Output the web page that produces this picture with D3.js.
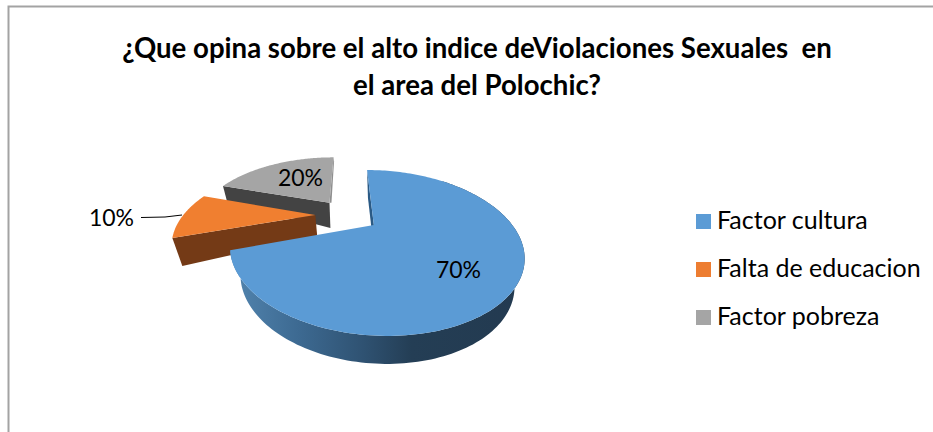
<!DOCTYPE html>
<html><head><meta charset="utf-8">
<script src="https://cdnjs.cloudflare.com/ajax/libs/d3/7.8.5/d3.min.js"></script>
<style>html,body{margin:0;padding:0;background:#fff}svg{display:block}text{font-family:Lato,"Open Sans",sans-serif;fill:#000}</style>
</head><body><svg id="c" width="933" height="432"></svg>
<script>
const categories = ["Factor cultura", "Falta de educacion", "Factor pobreza"];
const values = [70, 10, 20];
const topColors = ["#5b9bd5", "#ed7d31", "#a5a5a5"];
const titleLines = ["¿Que opina sobre el alto indice deViolaciones Sexuales  en", "el area del Polochic?"];

const svg = d3.select("#c");
const W = 933, H = 432;

// chart frame (top and left edges only are visible in the crop)
svg.append("path").attr("d", d3.line()([[8.5, H], [8.5, 6.5], [W, 6.5]]))
  .attr("fill", "none").attr("stroke", "#a3a3a3").attr("stroke-width", 2);

// title
svg.selectAll("text.title").data(titleLines).join("text").attr("class", "title")
  .attr("x", 477).attr("y", (d, i) => 58 + i * 37)
  .attr("text-anchor", "middle").attr("font-weight", 700).attr("font-size", 27.6)
  .style("white-space", "pre").text(d => d);

// perspective projection of the pie plane
const cx = 347, cy = 215, Rx = 132, Ry = 66.9, k = 0.323, explode = 0.24;
const pie = d3.pie().sort(null).value(d => d).startAngle(0).endAngle(2 * Math.PI);
const arcs = pie(values);

function project(a, mid, r) {
  const u = r * Math.sin(a) + explode * Math.sin(mid);
  const v = -r * Math.cos(a) - explode * Math.cos(mid);
  const den = 1 - k * v;
  return [cx + Rx * u / den, cy + Ry * v / den];
}
function ring(d, steps = 90) {
  const mid = (d.startAngle + d.endAngle) / 2;
  return d3.range(steps + 1).map(i => {
    const a = d3.scaleLinear().domain([0, steps]).range([d.startAngle, d.endAngle])(i);
    return project(a, mid, 1);
  });
}
function apex(d) { const mid = (d.startAngle + d.endAngle) / 2; return project(0, mid, 0); }
const line = d3.line();
const closed = pts => line(pts) + "Z";

const defs = svg.append("defs");
const grad = defs.append("linearGradient").attr("id", "blueWall").attr("gradientUnits", "userSpaceOnUse")
  .attr("x1", 235).attr("x2", 520).attr("y1", 0).attr("y2", 0);
[[0, "#5183ad"], [0.22, "#3d6a92"], [0.45, "#2f5272"], [0.62, "#243e55"], [1, "#233a50"]]
  .forEach(s => grad.append("stop").attr("offset", s[0]).attr("stop-color", s[1]));

const [blue, orange, gray] = arcs;

// --- gray slice
{
  const r = ring(gray), a0 = apex(gray), first = r[0], last = r[r.length - 1];
  const low = p => [p[0] + 1 + 3 * (327 - p[0]) / 105, p[1] + 25 - 10 * (327 - p[0]) / 105];
  svg.append("path").attr("d", closed([first, a0, low(a0), low(first)])).attr("fill", "#434343");
  svg.append("path").attr("d", closed([last, [last[0] + 0.5, last[1] + 4], [a0[0] + 2, a0[1]], a0])).attr("fill", "#8f8f8f");
  svg.append("path").attr("d", closed([a0, ...r])).attr("fill", topColors[2]);
}
// --- orange slice
{
  const r = ring(orange), a0 = apex(orange), first = r[0];
  const low = p => [p[0] + 2 + 8 * (313 - p[0]) / 141, p[1] + 21 + 7 * (313 - p[0]) / 141];
  svg.append("path").attr("d", closed([first, a0, low(a0), low(first)])).attr("fill", "#743a16");
  svg.append("path").attr("d", closed([a0, ...r])).attr("fill", "#f07f30");
}
// --- blue slice
{
  const r = ring(blue, 180), a0 = apex(blue), first = r[0];
  const low = p => [380 + (p[0] - 380) * 0.93, p[1] + 28];
  const lowEdge = r.map(low).reverse();
  svg.append("path").attr("d", closed([first, a0, low(a0), low(first)])).attr("fill", "#2a5a85");
  svg.append("path").attr("d", closed([...r.slice(30), ...lowEdge.slice(0, -30)])).attr("fill", "url(#blueWall)");
  svg.append("path").attr("d", closed([a0, ...r])).attr("fill", topColors[0]);
}

// value labels
const labelPos = [[458.5, 278], [111.5, 226], [300.5, 186]];
svg.selectAll("text.val").data(values).join("text").attr("class", "val")
  .attr("x", (d, i) => labelPos[i][0]).attr("y", (d, i) => labelPos[i][1])
  .attr("text-anchor", "middle").attr("font-size", 23)
  .text(d => d + "%");

// leader line
svg.append("path").attr("d", d3.line()([[141, 217.5], [165, 217], [182, 215]]))
  .attr("fill", "none").attr("stroke", "#000").attr("stroke-width", 1);

// legend
const legend = d3.scalePoint().domain(categories).range([221.5, 317.5]);
svg.selectAll("rect.sw").data(categories).join("rect").attr("class", "sw")
  .attr("x", 696).attr("y", d => legend(d) - 7.5).attr("width", 15).attr("height", 15)
  .attr("fill", (d, i) => topColors[i]);
svg.selectAll("text.lg").data(categories).join("text").attr("class", "lg")
  .attr("x", 717).attr("y", d => legend(d) + 7)
  .attr("font-size", 25).text(d => d);
</script></body></html>
